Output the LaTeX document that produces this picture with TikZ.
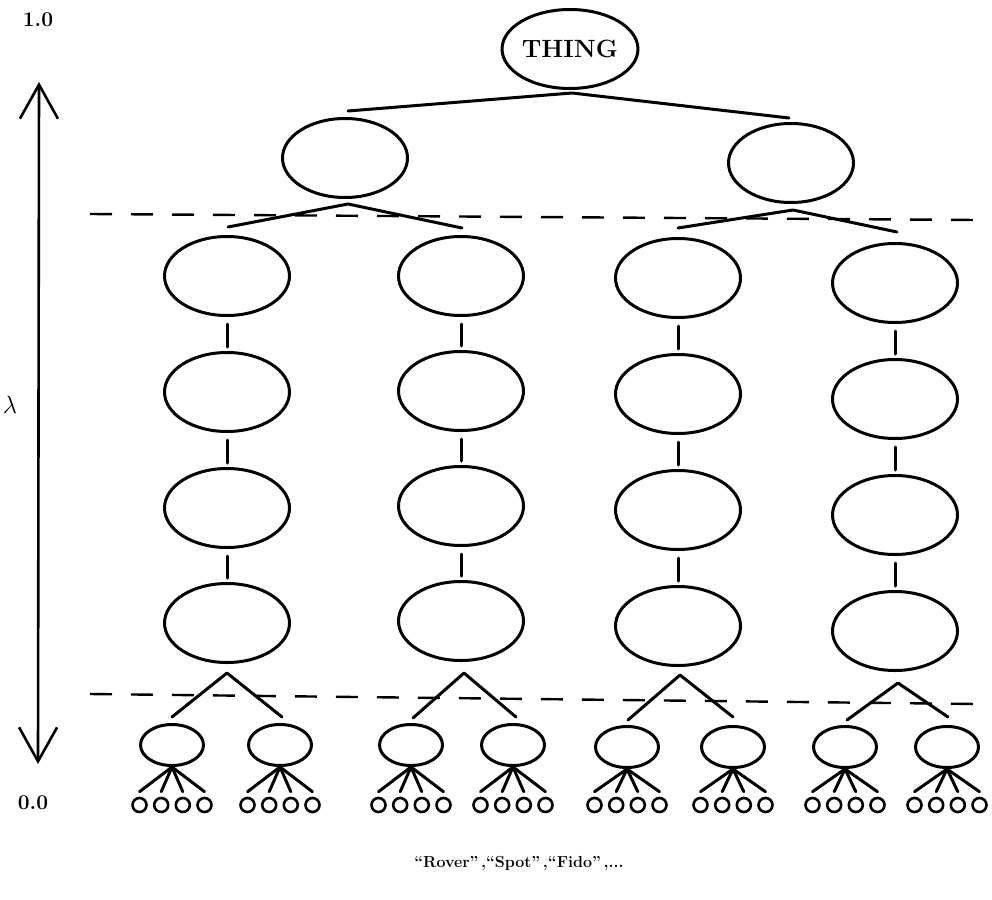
\documentclass[tikz,border=0pt]{standalone}
\usetikzlibrary{shapes.geometric,arrows.meta}
\begin{document}
\begin{tikzpicture}[x=1pt,y=-1pt,line join=round,line cap=round,
  big/.style={ellipse,draw,line width=3pt,minimum width=125pt,minimum height=79pt,inner sep=0pt},
  small/.style={ellipse,draw,line width=3pt,minimum width=63pt,minimum height=41pt,inner sep=0pt},
  leaf/.style={circle,draw,line width=2.6pt,minimum size=14pt,inner sep=0pt},
  link/.style={line width=3pt},
  levelline/.style={line width=2.4pt,line cap=butt,dash pattern=on 22pt off 19pt},
  lbl/.style={font=\fontsize{21}{25}\selectfont\bfseries,inner sep=0pt},
  barb/.style={line width=2.6pt,{Straight Barb[length=34pt,width=38pt,line width=2.6pt]}-{Straight Barb[length=34pt,width=38pt,line width=2.6pt]}}
]
\useasboundingbox (0,0) rectangle (992,899);

% scale arrow and labels
\coordinate (top) at (39,82);
\coordinate (bot) at (38,764);
\draw[barb] (top) -- (bot);
\node[lbl] (one) at (38,20) {1.0};
\node[lbl] (zero) at (33,803) {0.0};
\node[font=\fontsize{28}{32}\selectfont,inner sep=0pt] (lam) at (10,405) {$\lambda$};

% dashed level lines
\coordinate (d1a) at (90,214);
\coordinate (d1b) at (977,220);
\coordinate (d2a) at (90,694);
\coordinate (d2b) at (977,704);
\draw[levelline] (d1a) -- (d1b);
\draw[levelline] (d2a) -- (d2b);

% root and first level
\node[big,font=\fontsize{25}{29}\selectfont\bfseries] (thing) at (570,49) {THING};
\node[big] (l1a) at (345,158) {};
\node[big] (l1b) at (791,163) {};
\coordinate (ta) at (572,93);
\coordinate (tl) at (348,111);
\coordinate (tr) at (789,118);
\draw[link] (tl) -- (ta) -- (tr);

\coordinate (aa) at (348,204);
\coordinate (al) at (228,227);
\coordinate (ar) at (462,228);
\draw[link] (al) -- (aa) -- (ar);
\coordinate (ba) at (793,210);
\coordinate (bl) at (678,228);
\coordinate (br) at (897,232);
\draw[link] (bl) -- (ba) -- (br);

% four columns of chained ellipses
\foreach \c/\x/\ya/\yb/\yc/\yd in {1/227/276/392/508/623, 2/461/276/391/506/621, 3/678/278/394/510/626, 4/895/283/399/515/631}{
  \node[big] (c\c r1) at (\x,\ya) {};
  \node[big] (c\c r2) at (\x,\yb) {};
  \node[big] (c\c r3) at (\x,\yc) {};
  \node[big] (c\c r4) at (\x,\yd) {};
  \draw[link] ([yshift=-7pt]c\c r1.south) -- ([yshift=4pt]c\c r2.north);
  \draw[link] ([yshift=-7pt]c\c r2.south) -- ([yshift=4pt]c\c r3.north);
  \draw[link] ([yshift=-7pt]c\c r3.south) -- ([yshift=4pt]c\c r4.north);
}

% lower branchings
\foreach \c/\ax/\ay/\lx/\ly/\rx/\ry in {1/227/673/172/717/282/717, 2/464/673/413/718/516/717, 3/680/675/628/720/733/717, 4/898/683/847/720/948/717}{
  \coordinate (p\c) at (\ax,\ay);
  \coordinate (pl\c) at (\lx,\ly);
  \coordinate (pr\c) at (\rx,\ry);
  \draw[link] (pl\c) -- (p\c) -- (pr\c);
}

% small ellipses with leaves
\foreach \n/\sx/\sy in {sa/172/745, sb/280/745, sc/411/745, sd/513/745, se/627/747, sf/733/747, sg/845/747, sh/947/747}{
  \node[small] (\n) at (\sx,\sy) {};
  \foreach \k/\dx in {1/-32.5, 2/-10.8, 3/10.8, 4/32.5}{
    \node[leaf] (\n\k) at ({\sx+(\dx)},805) {};
    \draw[link] (\n.south) -- ([yshift=5pt]\n\k.north);
  }
}

\node[font=\fontsize{16}{19}\selectfont\bfseries,inner sep=0pt] (names) at (519,863) {“Rover”\,,“Spot”\,,“Fido”\,,...};
\end{tikzpicture}
\end{document}
